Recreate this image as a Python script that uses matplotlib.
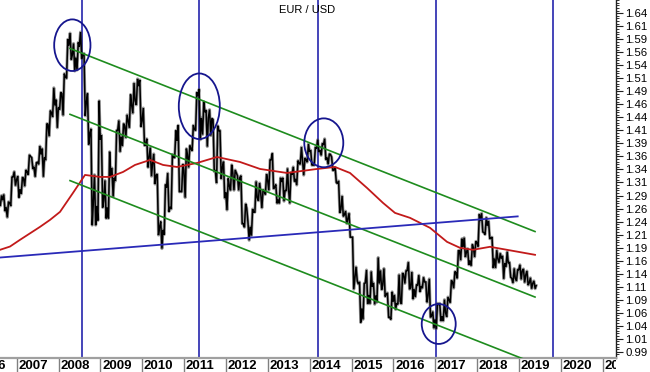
import matplotlib
matplotlib.use("Agg")
import matplotlib.pyplot as plt
from matplotlib.patches import Ellipse

plt.rcParams['font.family'] = ['Liberation Sans', 'DejaVu Sans']

title = "EUR / USD"

# ---- monthly EUR/USD (Aug 2006 .. May 2019) ----
first_year, first_month = 2006, 8
open0 = 1.2770
highs = [
    1.2900, 1.2920, 1.2780, 1.3260, 1.3360,
    1.3270, 1.3250, 1.3390, 1.3680, 1.3630, 1.3530, 1.3850, 1.3800, 1.4280, 1.4530, 1.4970, 1.4740,
    1.4880, 1.5240, 1.5900, 1.6020, 1.5820, 1.5840, 1.6040, 1.5630, 1.4860, 1.4180, 1.3300, 1.4720,
    1.4060, 1.3190, 1.3740, 1.3430, 1.4150, 1.4340, 1.4280, 1.4450, 1.4840, 1.5060, 1.5140, 1.5120,
    1.4580, 1.3990, 1.3820, 1.3700, 1.3310, 1.2400, 1.3110, 1.3330, 1.3690, 1.4150, 1.4250, 1.3500,
    1.3800, 1.3860, 1.4250, 1.4880, 1.4940, 1.4700, 1.4540, 1.4550, 1.4360, 1.4240, 1.4150, 1.3550,
    1.3230, 1.3490, 1.3390, 1.3280, 1.3280, 1.2740, 1.2400, 1.2640, 1.3170, 1.3140, 1.3010, 1.3310,
    1.3590, 1.3710, 1.3110, 1.3240, 1.3240, 1.3420, 1.3340, 1.3450, 1.3570, 1.3830, 1.3620, 1.3890,
    1.3770, 1.3830, 1.3970, 1.3900, 1.3990, 1.3700, 1.3640, 1.3440, 1.3180, 1.2890, 1.2600, 1.2560,
    1.2100, 1.1530, 1.1240, 1.1210, 1.1470, 1.1440, 1.1220, 1.1710, 1.1460, 1.1500, 1.1030, 1.1050,
    1.0990, 1.1380, 1.1410, 1.1460, 1.1620, 1.1430, 1.1190, 1.1370, 1.1330, 1.1240, 1.1300, 1.0670,
    1.0830, 1.0830, 1.0900, 1.0950, 1.1270, 1.1440, 1.1840, 1.2070, 1.2090, 1.1880, 1.1960, 1.2020,
    1.2540, 1.2560, 1.2480, 1.2410, 1.2100, 1.1850, 1.1790, 1.1740, 1.1820, 1.1620, 1.1500, 1.1480,
    1.1570, 1.1490, 1.1450, 1.1320, 1.1260,
]
lows = [
    1.2700, 1.2600, 1.2480, 1.2700, 1.3090,
    1.2860, 1.2930, 1.3080, 1.3300, 1.3410, 1.3260, 1.3500, 1.3260, 1.3580, 1.4040, 1.4410, 1.4200,
    1.4550, 1.4440, 1.5150, 1.5510, 1.5290, 1.5310, 1.5530, 1.4430, 1.3880, 1.2330, 1.2330, 1.2420,
    1.2670, 1.2460, 1.2460, 1.2880, 1.3180, 1.3740, 1.3850, 1.4010, 1.4200, 1.4480, 1.4640, 1.4220,
    1.3860, 1.3440, 1.3270, 1.3120, 1.2140, 1.1880, 1.2150, 1.2590, 1.2640, 1.3630, 1.2970, 1.2970,
    1.2860, 1.3440, 1.3760, 1.4150, 1.3970, 1.4070, 1.3840, 1.4050, 1.3360, 1.3140, 1.3220, 1.2850,
    1.2620, 1.3000, 1.3000, 1.3000, 1.2360, 1.2290, 1.2040, 1.2130, 1.2580, 1.2800, 1.2660, 1.2920,
    1.3000, 1.3030, 1.2750, 1.2750, 1.2790, 1.2990, 1.2750, 1.3170, 1.3100, 1.3500, 1.3290, 1.3540,
    1.3480, 1.3480, 1.3740, 1.3670, 1.3590, 1.3500, 1.3380, 1.3150, 1.2570, 1.2500, 1.2360, 1.2100,
    1.1100, 1.1260, 1.0460, 1.0520, 1.0820, 1.0820, 1.0810, 1.0850, 1.1090, 1.0960, 1.0560, 1.0520,
    1.0710, 1.0810, 1.0820, 1.1210, 1.1100, 1.0910, 1.0950, 1.1050, 1.1120, 1.0850, 1.0560, 1.0350,
    1.0340, 1.0490, 1.0490, 1.0570, 1.0840, 1.1120, 1.1310, 1.1660, 1.1720, 1.1570, 1.1550, 1.1720,
    1.1920, 1.2200, 1.2150, 1.2070, 1.1510, 1.1510, 1.1610, 1.1300, 1.1530, 1.1330, 1.1220, 1.1260,
    1.1290, 1.1230, 1.1180, 1.1110, 1.1110,
]
closes = [
    1.2810, 1.2670, 1.2760, 1.3250, 1.3200,
    1.3020, 1.3230, 1.3360, 1.3650, 1.3450, 1.3540, 1.3690, 1.3630, 1.4270, 1.4490, 1.4630, 1.4590,
    1.4860, 1.5180, 1.5780, 1.5600, 1.5550, 1.5760, 1.5600, 1.4680, 1.4090, 1.2730, 1.2700, 1.3970,
    1.2800, 1.2670, 1.3250, 1.3240, 1.4150, 1.4030, 1.4240, 1.4330, 1.4640, 1.4720, 1.5000, 1.4330,
    1.3870, 1.3630, 1.3510, 1.3290, 1.2290, 1.2240, 1.3050, 1.2680, 1.3630, 1.3950, 1.2980, 1.3380,
    1.3690, 1.3800, 1.4170, 1.4810, 1.4390, 1.4500, 1.4390, 1.4380, 1.3390, 1.4140, 1.3430, 1.2960,
    1.3090, 1.3340, 1.3340, 1.3240, 1.2360, 1.2660, 1.2300, 1.2580, 1.2860, 1.2960, 1.2990, 1.3190,
    1.3580, 1.3060, 1.2820, 1.3160, 1.3000, 1.3010, 1.3300, 1.3220, 1.3520, 1.3580, 1.3590, 1.3740,
    1.3490, 1.3800, 1.3770, 1.3870, 1.3630, 1.3690, 1.3390, 1.3130, 1.2630, 1.2530, 1.2450, 1.2100,
    1.1290, 1.1200, 1.0730, 1.1220, 1.0990, 1.1150, 1.0980, 1.1210, 1.1180, 1.1000, 1.0560, 1.0860,
    1.0830, 1.0870, 1.1380, 1.1450, 1.1130, 1.1100, 1.1170, 1.1160, 1.1240, 1.0980, 1.0590, 1.0520,
    1.0800, 1.0580, 1.0650, 1.0900, 1.1240, 1.1420, 1.1840, 1.1910, 1.1810, 1.1650, 1.1900, 1.2000,
    1.2410, 1.2190, 1.2320, 1.2080, 1.1690, 1.1690, 1.1690, 1.1600, 1.1600, 1.1310, 1.1310, 1.1470,
    1.1450, 1.1370, 1.1220, 1.1210, 1.1170,
]

# ---- moving average (red) ----
ma_years = [2006.601, 2006.840, 2007.079, 2007.557, 2007.796, 2008.035, 2008.345, 2008.632,
            2008.990, 2009.229, 2009.540, 2009.827, 2010.186, 2010.497, 2010.831, 2011.309,
            2011.786, 2012.336, 2012.814, 2013.459, 2014.176, 2014.606, 2014.964, 2015.370,
            2015.753, 2016.039, 2016.398, 2016.876, 2017.282, 2017.593, 2017.903, 2018.309,
            2018.716, 2019.385]
ma_values = [1.1857, 1.1920, 1.2049, 1.2298, 1.2432, 1.2586, 1.2950, 1.3295,
             1.3257, 1.3257, 1.3352, 1.3487, 1.3583, 1.3487, 1.3448, 1.3525,
             1.3640, 1.3544, 1.3410, 1.3333, 1.3410, 1.3448, 1.3333, 1.3046,
             1.2758, 1.2566, 1.2471, 1.2279, 1.2010, 1.1895, 1.1857, 1.1915,
             1.1857, 1.1761]

# ---- drawn annotations ----
vline_years = [2008.553, 2011.363, 2014.193, 2017.012, 2019.808]
channel_years = [2008.274, 2019.385]
channel_top = [1.5724, 1.2208]
channel_mid = [1.4459, 1.0950]
channel_bot = [1.3186, 0.9673]
trend_years = [2006.601, 2018.971]
trend_values = [1.1709, 1.2499]
circle_years = [2008.329, 2011.363, 2014.338, 2017.084]
circle_values = [1.5787, 1.4614, 1.3912, 1.0433]
circle_w_years = [0.867, 0.980, 0.932, 0.812]
circle_h_values = [0.0991, 0.1260, 0.0939, 0.0767]

year_labels = list(range(2006, 2022))
ytick_values = [0.99 + 0.025 * k for k in range(27)]
ytick_labels = ['0.99', '1.01', '1.04', '1.06', '1.09', '1.11', '1.14', '1.16', '1.19',
                '1.21', '1.24', '1.26', '1.29', '1.31', '1.34', '1.36', '1.39', '1.41',
                '1.44', '1.46', '1.49', '1.51', '1.54', '1.56', '1.59', '1.61', '1.64']

# ---- build price path ----
px = [first_year + (first_month - 1) / 12.0]
py = [open0]
prev = open0
for i, (h, l, c) in enumerate(zip(highs, lows, closes)):
    t = first_year + (first_month - 1 + i) / 12.0
    seq = (l, h) if c >= prev else (h, l)
    px += [t + 0.3 / 12, t + 0.65 / 12, t + 0.95 / 12]
    py += [seq[0], seq[1], c]
    prev = c

W, H = 650, 372
fig = plt.figure(figsize=(6.5, 3.72), dpi=100)
axis_right = 616
axis_bottom = 357.7
ax = fig.add_axes([0, (H - axis_bottom) / H, axis_right / W, axis_bottom / H])
xmin, xmax = 2006.601, 2021.320
ax.set_xlim(xmin, xmax)
ax.set_ylim(0.9785, 1.6655)

for v in vline_years:
    ax.axvline(v, color='#1212a6', lw=1.1, zorder=2)

ax.plot(px, py, color='#3a3a3a', lw=2.2, zorder=3, alpha=0.5)
ax.plot(px, py, color='black', lw=1.1, zorder=3, solid_joinstyle='miter')
ax.plot(ma_years, ma_values, color='#c21a1a', lw=1.3, zorder=4)
for vals in (channel_top, channel_mid, channel_bot):
    ax.plot(channel_years, vals, color='#1e8c1e', lw=1.2, zorder=4)
ax.plot(trend_years, trend_values, color='#2a2ab8', lw=1.3, zorder=4)
for cx, cy, w, h in zip(circle_years, circle_values, circle_w_years, circle_h_values):
    ax.add_patch(Ellipse((cx, cy), w, h, fill=False, edgecolor='#16168e', lw=1.3, zorder=5))

ax.spines['top'].set_visible(False)
ax.spines['left'].set_visible(False)
ax.spines['right'].set_color('#202020')
ax.spines['right'].set_linewidth(1.0)
ax.spines['bottom'].set_color('#a0a0a0')
ax.spines['bottom'].set_linewidth(1.6)
ax.set_xticks([])
ax.yaxis.tick_right()
ax.set_yticks(ytick_values)
ax.set_yticklabels(ytick_labels)
minor = [0.99 + 0.005 * k for k in range(-1, 136)]
ax.set_yticks(minor, minor=True)
ax.tick_params(axis='y', which='major', length=5, width=0.8, pad=1.5,
               labelsize=8.2, colors='#202020', labelcolor='black')
ax.tick_params(axis='y', which='minor', length=2.5, width=0.7, colors='#303030')

fig.text(307 / W, 1 - 10 / H, title, ha='center', va='center', fontsize=8, color='black')

# ---- year label strip ----
ax2 = fig.add_axes([0, 0, axis_right / W, (H - axis_bottom - 0.8) / H])
ax2.set_xlim(xmin, xmax)
ax2.set_ylim(0, 1)
ax2.axis('off')
for yr in year_labels:
    ax2.axvline(yr, color='#808080', lw=1.0)
    ax2.text(yr + 0.04, 0.47, str(yr), ha='left', va='center', fontsize=9.5,
             fontweight='bold', color='black', clip_on=True)

fig.savefig('out.png', dpi=100)
